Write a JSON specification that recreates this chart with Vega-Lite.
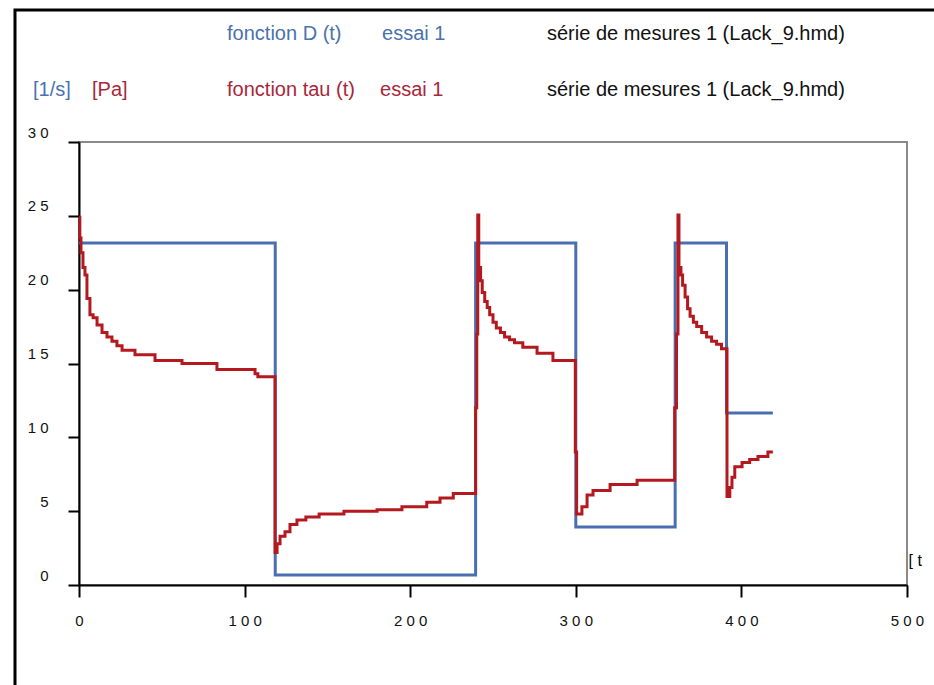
{
  "$schema": "https://vega.github.io/schema/vega-lite/v6.json",
  "width": 828,
  "height": 443,
  "autosize": {"type": "none"},
  "padding": {"left": 79, "top": 142, "right": 27, "bottom": 100},
  "background": "white",
  "datasets": {
    "D": [
      {"t": 0, "v": 23.16}, {"t": 118.5, "v": 0.68}, {"t": 239.5, "v": 23.16},
      {"t": 300, "v": 3.93}, {"t": 360, "v": 23.16}, {"t": 391, "v": 11.65}, {"t": 419, "v": 11.65}
    ],
    "tau": [
      {"t": 0, "v": 24.9}, {"t": 0.5, "v": 23.5}, {"t": 1.2, "v": 22.5}, {"t": 2.4, "v": 21.5},
      {"t": 3.6, "v": 21.0}, {"t": 4.8, "v": 19.4}, {"t": 6.6, "v": 18.3}, {"t": 8.5, "v": 18.1},
      {"t": 10.9, "v": 17.6}, {"t": 13.9, "v": 17.1}, {"t": 16.9, "v": 16.8}, {"t": 19.9, "v": 16.5},
      {"t": 22.9, "v": 16.2}, {"t": 26, "v": 15.9}, {"t": 33.8, "v": 15.6}, {"t": 45.9, "v": 15.2},
      {"t": 62.2, "v": 15.0}, {"t": 83.3, "v": 14.6}, {"t": 106.3, "v": 14.3}, {"t": 108, "v": 14.1},
      {"t": 118.4, "v": 2.2}, {"t": 119.6, "v": 2.8}, {"t": 121.4, "v": 3.3}, {"t": 124.4, "v": 3.6},
      {"t": 127.4, "v": 4.1}, {"t": 131.6, "v": 4.4}, {"t": 137, "v": 4.6}, {"t": 145, "v": 4.8},
      {"t": 160, "v": 5.0}, {"t": 180, "v": 5.1}, {"t": 195, "v": 5.3}, {"t": 210, "v": 5.6},
      {"t": 218, "v": 5.9}, {"t": 226, "v": 6.2}, {"t": 239.5, "v": 12}, {"t": 240.2, "v": 17},
      {"t": 240.8, "v": 25.05}, {"t": 241.4, "v": 21.5}, {"t": 242.5, "v": 20.6}, {"t": 243.5, "v": 19.8},
      {"t": 245, "v": 19.2}, {"t": 246.5, "v": 18.8}, {"t": 248, "v": 18.3}, {"t": 250, "v": 17.8},
      {"t": 252, "v": 17.4}, {"t": 254.5, "v": 17.1}, {"t": 257, "v": 16.8}, {"t": 260, "v": 16.6},
      {"t": 263, "v": 16.4}, {"t": 268, "v": 16.1}, {"t": 276.6, "v": 15.7}, {"t": 286.2, "v": 15.2},
      {"t": 299.7, "v": 9}, {"t": 300.5, "v": 4.8}, {"t": 303.7, "v": 5.3},
      {"t": 306.8, "v": 6.1}, {"t": 310.4, "v": 6.4}, {"t": 320.7, "v": 6.8}, {"t": 337, "v": 7.1},
      {"t": 359.7, "v": 12}, {"t": 360.8, "v": 17}, {"t": 361.7, "v": 25.05}, {"t": 362.3, "v": 21.5},
      {"t": 363.5, "v": 21.0}, {"t": 364.5, "v": 20.3}, {"t": 366, "v": 19.5}, {"t": 367.5, "v": 18.7},
      {"t": 369, "v": 18.2}, {"t": 371, "v": 17.8}, {"t": 373, "v": 17.5}, {"t": 376, "v": 17.1},
      {"t": 379, "v": 16.8}, {"t": 382, "v": 16.5}, {"t": 385, "v": 16.3}, {"t": 388, "v": 16.0},
      {"t": 391.3, "v": 6.0},
      {"t": 393, "v": 6.6}, {"t": 394.3, "v": 7.3}, {"t": 396, "v": 8.0}, {"t": 400.4, "v": 8.3},
      {"t": 405, "v": 8.5}, {"t": 410, "v": 8.7}, {"t": 416, "v": 9.0}, {"t": 419, "v": 9.0}
    ],
    "hdr": [
      {"txt": "fonction D (t)", "t": 89.4, "v": 37.31, "grp": "D"},
      {"txt": "essai 1", "t": 183.0, "v": 37.31, "grp": "D"},
      {"txt": "série de mesures 1 (Lack_9.hmd)", "t": 282.6, "v": 37.31, "grp": "k"},
      {"txt": "[1/s]", "t": -27.8, "v": 33.52, "grp": "D"},
      {"txt": "[Pa]", "t": 7.85, "v": 33.52, "grp": "tau"},
      {"txt": "fonction tau (t)", "t": 89.4, "v": 33.52, "grp": "tau"},
      {"txt": "essai 1", "t": 181.8, "v": 33.52, "grp": "tau"},
      {"txt": "série de mesures 1 (Lack_9.hmd)", "t": 282.6, "v": 33.52, "grp": "k"}
    ]
  },
  "layer": [
    {
      "data": {"values": [{}]},
      "mark": {"type": "rect", "fill": null, "fillOpacity": 0, "stroke": "black", "strokeWidth": 3, "clip": false},
      "encoding": {
        "x": {"datum": -38.65, "type": "quantitative", "scale": {"domain": [0, 500], "nice": false, "zero": false},
              "axis": {"title": "[ t", "values": [0, 100, 200, 300, 400, 500], "labelExpr": "join(split(datum.label, ''), ' ')"}},
        "x2": {"datum": 540},
        "y": {"datum": 38.94, "type": "quantitative", "scale": {"domain": [0, 30], "nice": false, "zero": false},
              "axis": {"title": null, "values": [0, 5, 10, 15, 20, 25, 30], "labelExpr": "join(split(datum.label, ''), ' ')"}},
        "y2": {"datum": -12}
      }
    },
    {
      "data": {"name": "D"},
      "mark": {"type": "line", "interpolate": "step-after", "strokeWidth": 3, "color": "#4a6eb0", "clip": false},
      "encoding": {
        "x": {"field": "t", "type": "quantitative", "scale": {"domain": [0, 500], "nice": false, "zero": false},
              "axis": {"title": "[ t", "values": [0, 100, 200, 300, 400, 500], "labelExpr": "join(split(datum.label, ''), ' ')"}},
        "y": {"field": "v", "type": "quantitative", "scale": {"domain": [0, 30], "nice": false, "zero": false},
              "axis": {"title": null, "values": [0, 5, 10, 15, 20, 25, 30], "labelExpr": "join(split(datum.label, ''), ' ')"}}
      }
    },
    {
      "data": {"name": "tau"},
      "mark": {"type": "line", "interpolate": "step-after", "strokeWidth": 3, "color": "#b3191e", "clip": false},
      "encoding": {
        "x": {"field": "t", "type": "quantitative", "scale": {"domain": [0, 500], "nice": false, "zero": false},
              "axis": {"title": "[ t", "values": [0, 100, 200, 300, 400, 500], "labelExpr": "join(split(datum.label, ''), ' ')"}},
        "y": {"field": "v", "type": "quantitative", "scale": {"domain": [0, 30], "nice": false, "zero": false},
              "axis": {"title": null, "values": [0, 5, 10, 15, 20, 25, 30], "labelExpr": "join(split(datum.label, ''), ' ')"}}
      }
    },
    {
      "data": {"name": "hdr"},
      "mark": {"type": "text", "align": "left", "baseline": "middle", "font": "Liberation Sans", "fontSize": 20, "clip": false},
      "encoding": {
        "x": {"field": "t", "type": "quantitative", "scale": {"domain": [0, 500], "nice": false, "zero": false},
              "axis": {"title": "[ t", "values": [0, 100, 200, 300, 400, 500], "labelExpr": "join(split(datum.label, ''), ' ')"}},
        "y": {"field": "v", "type": "quantitative", "scale": {"domain": [0, 30], "nice": false, "zero": false},
              "axis": {"title": null, "values": [0, 5, 10, 15, 20, 25, 30], "labelExpr": "join(split(datum.label, ''), ' ')"}},
        "text": {"field": "txt", "type": "nominal"},
        "color": {"field": "grp", "type": "nominal", "legend": null,
                  "scale": {"domain": ["D", "tau", "k"], "range": ["#4a72ad", "#a8283a", "#111111"]}}
      }
    }
  ],
  "config": {
    "view": {"stroke": "#8a8a8a", "strokeWidth": 2},
    "axisX": {
      "grid": false, "domainColor": "black", "domainWidth": 2, "tickColor": "black", "tickWidth": 2, "tickSize": 12,
      "labelFont": "Liberation Sans", "labelFontSize": 15, "labelColor": "#111111", "labelPadding": 16,
      "labelFlush": false, "labelOverlap": false, "labelBaseline": "top",
      "titleFont": "Liberation Sans", "titleFontSize": 16, "titleFontWeight": "normal", "titleColor": "black",
      "titleX": 829, "titleY": -25, "titleAlign": "left", "titleBaseline": "middle"
    },
    "axisY": {
      "grid": false, "domainColor": "black", "domainWidth": 2, "tickColor": "black", "tickWidth": 2, "tickSize": 11,
      "labelFont": "Liberation Sans", "labelFontSize": 15, "labelColor": "#111111", "labelPadding": 20,
      "labelAlign": "right", "labelBaseline": "middle", "labelOffset": -10, "labelFlush": false, "labelOverlap": false
    }
  }
}
